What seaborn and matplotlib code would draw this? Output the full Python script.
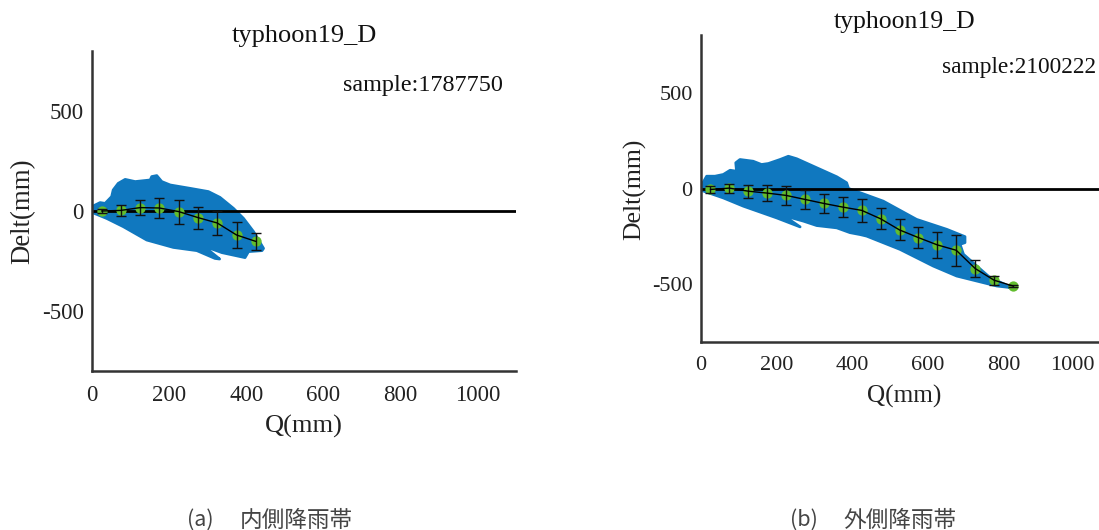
import matplotlib.pyplot as plt
import matplotlib.transforms as mtrans
import numpy as np
import seaborn as sns

sns.set_style("white")
plt.rcParams["font.family"] = ["Liberation Serif", "DejaVu Serif"]
plt.rcParams["axes.unicode_minus"] = False

W, H = 1099, 530

# inner rain band
q_a = [25, 75, 125, 175, 225, 275, 325, 375, 425]
delt_a = [0, 3, 17, 15, -3, -33, -60, -120, -152]
err_a = [12, 27, 37, 50, 60, 55, 62, 63, 44]
cloud_q_a = [0, 21, 34, 51, 55, 68, 86, 112, 151, 155, 168, 181, 203, 255, 302, 332, 367, 393, 419, 445,
             441, 406, 397, 337, 287, 302, 331, 319, 272, 211, 142, 81, 38, 0]
cloud_d_a = [22, 42, 38, 72, 105, 138, 158, 147, 155, 172, 177, 147, 130, 113, 97, 68, 13, -37, -103, -187,
             -198, -203, -233, -208, -173, -195, -240, -237, -198, -182, -145, -78, -37, -7]

# outer rain band
q_b = [25, 75, 125, 175, 225, 275, 325, 375, 425, 475, 525, 575, 625, 675, 725, 775, 825]
delt_b = [-5, 2, -14, -24, -36, -57, -78, -97, -114, -158, -216, -256, -294, -322, -417, -478, -508]
err_b = [16, 24, 34, 40, 49, 51, 49, 52, 58, 54, 55, 56, 69, 82, 46, 23, 5]
cloud_q_b = [0, 15, 37, 59, 77, 94, 92, 103, 138, 160, 178, 209, 231, 253, 306, 359, 385, 390, 482, 570, 650, 698,
             698, 685, 694, 729, 764, 808, 817, 782, 729, 676, 614, 526, 438, 421, 394, 359, 306, 271, 218, 262,
             200, 112, 59, 0]
cloud_d_b = [12, 64, 64, 73, 95, 90, 134, 151, 142, 125, 130, 151, 168, 155, 108, 61, 30, 0, -66, -161, -213, -251,
             -282, -291, -343, -404, -464, -504, -516, -508, -482, -456, -404, -317, -248, -240, -230, -205, -193,
             -170, -141, -200, -153, -92, -49, -9]

x_ticks = [0, 200, 400, 600, 800, 1000]
y_ticks = [-500, 0, 500]


def panel(fig, box, q, delt, err, cloud_q, cloud_d, sample, title, xlab, ylab, tick_size):
    left, top, right, bottom = box
    ax = fig.add_axes([left / W, 1 - bottom / H, (right - left) / W, (bottom - top) / H])
    ax.fill(cloud_q, cloud_d, color="#1078bf", lw=2, joinstyle="round", zorder=1)
    ax.plot([0, 1100], [0, 0], color="black", lw=2, zorder=2)
    sns.scatterplot(x=q, y=delt, ax=ax, color="#62bd2e", s=55, linewidth=0, zorder=3)
    ax.errorbar(q, delt, yerr=err, fmt="none", ecolor="#111111", elinewidth=1, capsize=3.5, capthick=1, zorder=4)
    sns.lineplot(x=q, y=delt, ax=ax, color="black", lw=1, zorder=5)
    ax.set_xlim(0, 1100)
    ax.set_ylim(-800, 800)
    ax.set_xticks(x_ticks)
    ax.set_yticks(y_ticks)
    ax.tick_params(axis="x", labelsize=tick_size, direction="in", length=4, width=1.5, pad=10,
                   color="#333333", labelcolor="#222222")
    ax.tick_params(axis="y", labelsize=tick_size, direction="in", length=4, width=1.5, pad=6,
                   color="#333333", labelcolor="#222222")
    sns.despine(ax=ax)
    for s in ["left", "bottom"]:
        ax.spines[s].set_color("#333333")
        ax.spines[s].set_linewidth(1.8)
    fig.text(title[1] / W, 1 - title[2] / H, "typhoon19_D", fontsize=title[0], ha="center", va="center",
             color="#111111")
    fig.text(sample[1] / W, 1 - sample[2] / H, sample[0], fontsize=sample[3], ha="left", va="center",
             color="#111111")
    fig.text(xlab[1] / W, 1 - xlab[2] / H, "Q(mm)", fontsize=xlab[0], ha="center", va="center", color="#222222")
    fig.text(ylab[1] / W, 1 - ylab[2] / H, "Delt(mm)", fontsize=ylab[0], rotation=90, ha="center", va="center",
             color="#222222")
    return ax


fig = plt.figure(figsize=(W / 100, H / 100), dpi=100)
panel(fig, (92, 51, 516, 371), q_a, delt_a, err_a, cloud_q_a, cloud_d_a, ("sample:1787750", 343, 85, 17.4),
      (19, 304, 36), (19, 304, 426), (19.4, 23, 211), 16.5)
ax_b = panel(fig, (701, 35, 1117, 342), q_b, delt_b, err_b, cloud_q_b, cloud_d_b, ("sample:2100222", 942, 68, 16.8),
             (18.5, 905, 22), (18.2, 904, 396), (18.5, 635, 189), 16)

# last tick label of the right panel sits a bit left, else the edge cuts it
lab = ax_b.get_xticklabels()[-1]
lab.set_transform(lab.get_transform() + mtrans.Affine2D().translate(-7, 0))

cap_font = ["Noto Sans CJK JP", "DejaVu Sans"]
fig.text(187 / W, 1 - 520 / H, "(a)", fontsize=15.5, family=cap_font, va="center", color="#444444")
fig.text(240 / W, 1 - 520 / H, "内側降雨帯", fontsize=16.3, family=cap_font, va="center", color="#444444")
fig.text(790 / W, 1 - 520 / H, "(b)", fontsize=15.5, family=cap_font, va="center", color="#444444")
fig.text(843 / W, 1 - 520 / H, "外側降雨帯", fontsize=16.3, family=cap_font, va="center", color="#444444")

fig.savefig("out.png", dpi=100)
